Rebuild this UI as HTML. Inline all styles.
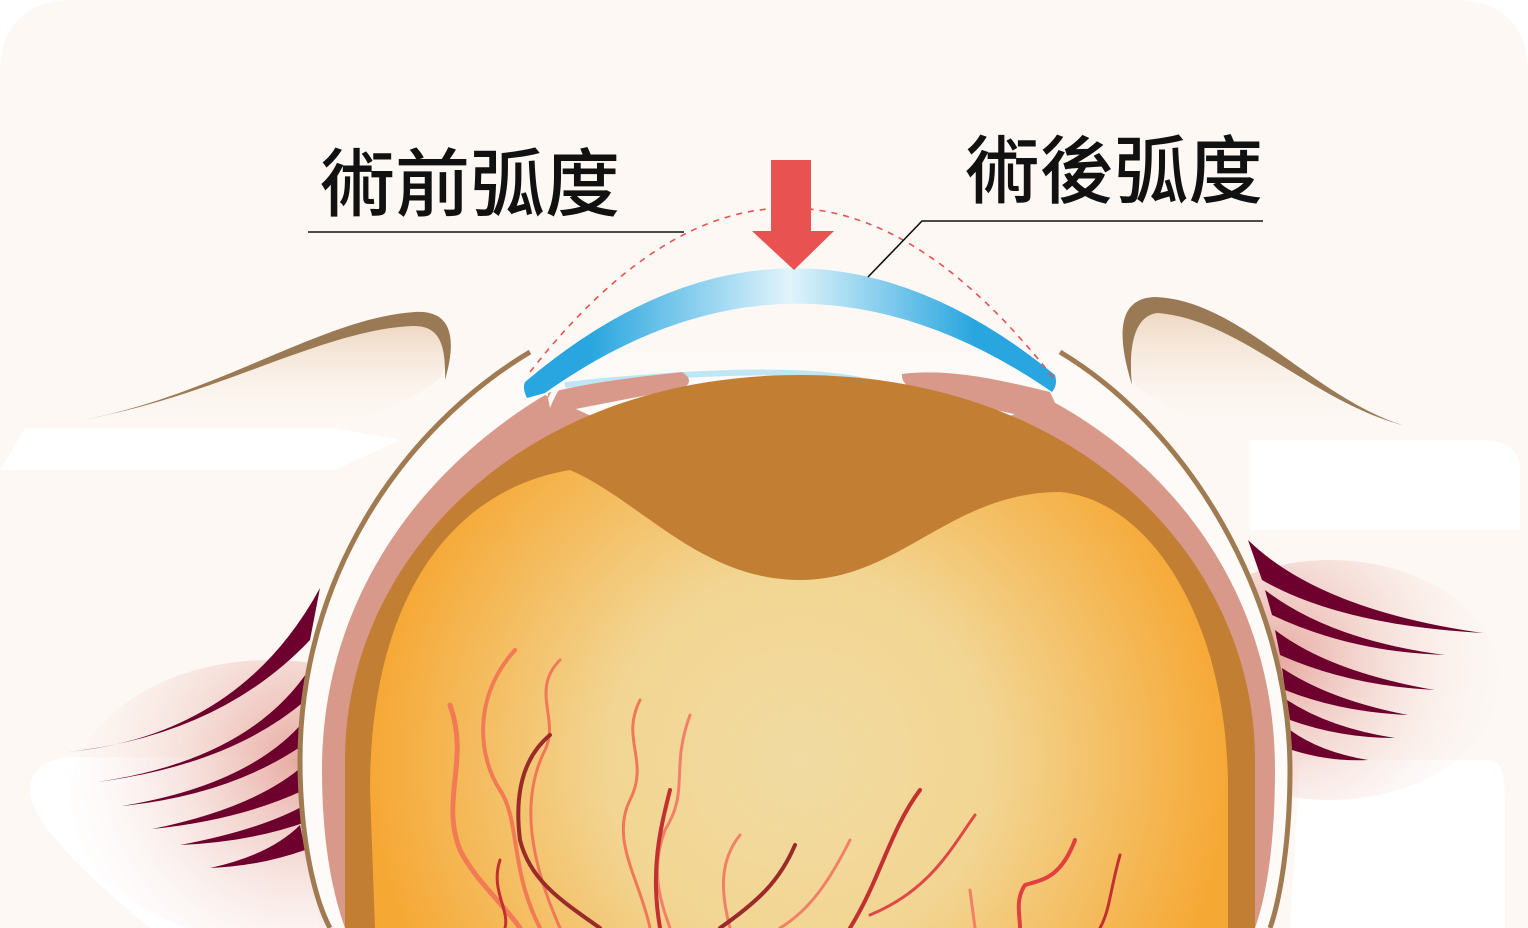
<!DOCTYPE html>
<html><head><meta charset="utf-8"><style>
html,body{margin:0;padding:0;background:#fff;width:1528px;height:928px;overflow:hidden}
svg{display:block}
text{font-family:"Liberation Sans","Noto Sans CJK TC","Noto Sans CJK SC",sans-serif;font-weight:500;fill:#111}
</style></head><body>
<svg width="1528" height="928" viewBox="0 0 1528 928" xmlns="http://www.w3.org/2000/svg">
<defs>
<linearGradient id="cor" x1="527" y1="0" x2="1053" y2="0" gradientUnits="userSpaceOnUse">
<stop offset="0" stop-color="#29a6df"/><stop offset="0.12" stop-color="#29a6df"/>
<stop offset="0.5" stop-color="#e2f4fb"/><stop offset="0.85" stop-color="#29a6df"/><stop offset="1" stop-color="#29a6df"/>
</linearGradient>
<radialGradient id="ret" cx="800" cy="760" r="430" gradientUnits="userSpaceOnUse">
<stop offset="0" stop-color="#f1dba2"/><stop offset="0.45" stop-color="#f2d592"/><stop offset="1" stop-color="#f6a835"/>
</radialGradient>
<linearGradient id="lidL" x1="0" y1="0" x2="0" y2="1">
<stop offset="0" stop-color="#ebd1b8"/><stop offset="1" stop-color="#fdf8f4" stop-opacity="0"/>
</linearGradient>
<radialGradient id="pinkL" cx="300" cy="760" r="260" gradientUnits="userSpaceOnUse">
<stop offset="0" stop-color="#e7a9a0"/><stop offset="1" stop-color="#fdf8f4" stop-opacity="0"/>
</radialGradient>
<radialGradient id="pinkR" cx="1280" cy="660" r="240" gradientUnits="userSpaceOnUse">
<stop offset="0" stop-color="#e7a9a0"/><stop offset="1" stop-color="#fdf8f4" stop-opacity="0"/>
</radialGradient>
</defs>
<path d="M0,75 Q0,0 75,0 L1453,0 Q1528,0 1528,75 L1528,928 L0,928 Z" fill="#fdf8f4"/>
<path d="M25,428 L335,428 L400,440 L335,470 L0,470 Z" fill="#ffffff"/>
<path d="M1250,440 L1480,440 Q1520,440 1520,470 L1520,530 L1250,530 Z" fill="#ffffff"/>
<path d="M80,757 L300,757 L320,928 L150,928 Q30,830 30,790 Q30,757 80,757 Z" fill="#ffffff"/>
<path d="M1300,760 L1490,760 Q1505,760 1505,800 L1505,928 L1290,928 Z" fill="#ffffff"/>
<ellipse cx="270" cy="800" rx="200" ry="140" fill="url(#pinkL)"/>
<ellipse cx="1330" cy="680" rx="170" ry="120" fill="url(#pinkR)"/>
<path d="M70,422 C200,400 330,320 420,315 C452,315 456,345 440,378 C380,430 250,440 70,422 Z" fill="url(#lidL)"/>
<path d="M70,422 C210,400 320,318 415,312 C450,310 458,335 445,380 C446,345 440,325 412,326 C320,330 210,400 70,422 Z" fill="#9a7955"/>
<path d="M1400,425 C1300,400 1230,310 1155,300 C1125,302 1118,330 1135,385 C1200,440 1330,440 1400,425 Z" fill="url(#lidL)"/>
<path d="M1402,425 C1310,395 1240,300 1155,297 C1120,298 1115,330 1132,385 C1128,345 1135,315 1158,313 C1240,320 1310,400 1402,425 Z" fill="#9a7955"/>
<g fill="#6e002d">
<path d="M68,752 Q240,735 320,588 L310,640 Q220,735 68,752 Z"/>
<path d="M97,782 Q250,760 310,668 L306,700 Q230,765 97,782 Z"/>
<path d="M122,806 Q250,785 305,720 L303,745 Q230,795 122,806 Z"/>
<path d="M152,829 Q255,808 304,765 L304,790 Q240,820 152,829 Z"/>
<path d="M180,845 Q260,830 305,805 L306,822 Q250,842 180,845 Z"/>
<path d="M210,868 Q270,855 300,825 L305,850 Q260,866 210,868 Z"/>
</g>
<g fill="#6e002d">
<path d="M1483,633 Q1320,610 1248,540 L1262,580 Q1340,625 1483,633 Z"/>
<path d="M1445,655 Q1330,640 1265,590 L1272,615 Q1350,652 1445,655 Z"/>
<path d="M1435,690 Q1330,672 1275,630 L1280,655 Q1350,686 1435,690 Z"/>
<path d="M1408,715 Q1330,700 1282,668 L1285,690 Q1340,712 1408,715 Z"/>
<path d="M1395,738 Q1330,728 1287,700 L1290,720 Q1340,738 1395,738 Z"/>
<path d="M1368,760 Q1320,752 1290,730 L1292,750 Q1330,762 1368,760 Z"/>
</g>
<path d="M530,352 C400,430 300,580 300,760 C300,840 315,900 330,928 L1270,928 C1280,900 1290,840 1290,770 C1290,600 1190,430 1060,352 Z" fill="#fefaf7"/>
<path d="M530,352 C400,430 300,580 300,760 C300,840 315,900 330,928" fill="none" stroke="#a07a50" stroke-width="5"/>
<path d="M1060,352 C1190,430 1290,600 1290,770 C1290,840 1280,900 1270,928" fill="none" stroke="#a07a50" stroke-width="5"/>
<path d="M545,395 C420,470 322,600 322,770 C322,850 335,900 345,928 L1255,928 C1265,900 1275,850 1275,770 C1275,600 1180,470 1050,400 L1000,420 L600,420 Z" fill="#d9998a"/>
<path d="M565,385 Q800,360 880,385" fill="none" stroke="#bfe6f5" stroke-width="6"/>
<path d="M548,393 C600,380 650,376 682,372 Q695,380 684,388 L560,412 Q545,414 548,405 Z" fill="#d9998a"/>
<path d="M902,374 C950,368 1000,380 1050,392 L1065,425 L950,400 Q900,392 902,374 Z" fill="#d9998a"/>
<path d="M548,398 Q555,385 566,378 Q555,395 550,408 Z" fill="#fefaf7"/>
<path d="M345,760 C345,560 520,375 800,375 C1080,375 1255,560 1255,760 L1255,928 L345,928 Z" fill="#c27f33"/>
<path d="M370,790 C370,600 450,490 570,470 C640,500 700,580 800,580 C900,580 950,492 1060,492 C1150,500 1228,620 1228,790 L1228,928 L375,928 Z" fill="url(#ret)"/>
<g fill="none" stroke-linecap="round">
<path d="M450,705 C470,760 440,800 460,850 C475,880 500,900 520,928" stroke="#f27a55" stroke-width="5"/>
<path d="M515,650 C470,700 480,760 500,790 C520,820 510,870 540,928" stroke="#f27a55" stroke-width="4"/>
<path d="M560,660 C530,690 560,720 545,750 C520,800 530,860 560,928" stroke="#f07858" stroke-width="3"/>
<path d="M550,735 C520,760 515,800 520,840 C530,880 560,900 600,928" stroke="#9b2a2a" stroke-width="4"/>
<path d="M640,700 C620,740 650,760 630,800 C610,840 640,880 650,928" stroke="#f07858" stroke-width="3"/>
<path d="M690,715 C670,770 690,790 665,830 C650,870 660,900 670,928" stroke="#f28068" stroke-width="3"/>
<path d="M670,790 C660,830 650,870 660,928" stroke="#c23030" stroke-width="4"/>
<path d="M740,835 C720,860 720,890 730,928" stroke="#f28068" stroke-width="3"/>
<path d="M795,845 C780,880 760,900 720,928" stroke="#9b2a2a" stroke-width="4"/>
<path d="M850,840 C830,880 810,910 780,928" stroke="#f28068" stroke-width="3"/>
<path d="M920,790 C890,830 880,880 850,928" stroke="#c23030" stroke-width="4"/>
<path d="M975,815 C950,850 930,890 870,915" stroke="#e04848" stroke-width="3"/>
<path d="M1075,840 C1060,880 1040,880 1025,885 C1015,900 1020,915 1020,928" stroke="#e04040" stroke-width="4"/>
<path d="M1120,855 C1110,890 1110,910 1100,928" stroke="#c23030" stroke-width="3"/>
<path d="M970,890 L975,928" stroke="#f28068" stroke-width="3"/>
<path d="M500,860 C490,890 510,910 505,928" stroke="#c23030" stroke-width="3"/>
</g>
<path d="M527,398 Q522,388 525,382 Q790,158 1055,375 Q1058,385 1052,392 Q795,215 545,393 Z" fill="url(#cor)"/>
<path d="M530,372 Q790,40 1055,380" fill="none" stroke="#e8524f" stroke-width="1.6" stroke-dasharray="6,6"/>
<rect x="771" y="160" width="40" height="72" fill="#e85352"/>
<path d="M752,231 L834,231 L794,270 Z" fill="#e85352"/>
<text x="320" y="210" font-size="74" textLength="300" lengthAdjust="spacingAndGlyphs">術前弧度</text>
<line x1="308" y1="232" x2="684" y2="232" stroke="#111" stroke-width="1.6"/>
<text x="965" y="197" font-size="74" textLength="298" lengthAdjust="spacingAndGlyphs">術後弧度</text>
<polyline points="868,277 922,221 1263,221" fill="none" stroke="#111" stroke-width="1.6"/>
</svg>
</body></html>
